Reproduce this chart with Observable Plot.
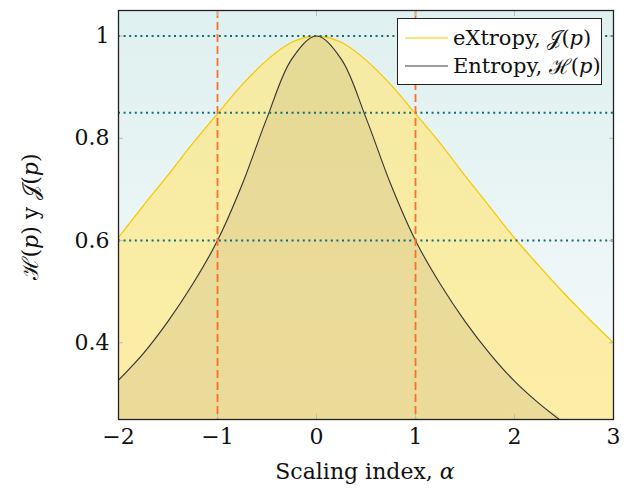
<!DOCTYPE html>
<html>
<head>
<meta charset="utf-8">
<script src="https://cdn.jsdelivr.net/npm/d3@7"></script>
<script src="https://cdn.jsdelivr.net/npm/@observablehq/plot@0.6"></script>
<style>
  html, body { margin: 0; padding: 0; background: #fff; }
  #wrap { position: relative; width: 630px; height: 491px; font-family: "DejaVu Serif", "Liberation Serif", serif; }
  #legend { position: absolute; left: 397px; top: 18px; width: 203px; height: 65px; border: 1.5px solid #222; background: #fff; box-sizing: content-box; }
  .lrow { position: absolute; left: 0; height: 28px; display: flex; align-items: center; font-size: 21px; color: #111; white-space: nowrap; }
  .lrow svg { margin-left: 7px; margin-right: 5px; }
  .m { font-style: italic; }
</style>
</head>
<body>
<div id="wrap">
  <div id="chart"></div>
  <div id="legend">
    <div class="lrow" style="top:5px"><svg width="43" height="4"><line x1="0" x2="43" y1="2" y2="2" stroke="#f7c700" stroke-width="1.2"/></svg>eXtropy,&nbsp;<span>𝒥</span>(<span class="m">p</span>)</div>
    <div class="lrow" style="top:33px"><svg width="43" height="4"><line x1="0" x2="43" y1="2" y2="2" stroke="#3a3a3a" stroke-width="1.2"/></svg>Entropy,&nbsp;<span>ℋ</span>(<span class="m">p</span>)</div>
  </div>
</div>
<script>
// ---- data ----
const alpha   = [-2, -1.75, -1.5, -1.25, -1, -0.75, -0.5, -0.25, 0, 0.25, 0.5, 0.75, 1, 1.25, 1.5, 1.75, 2, 2.25, 2.5, 2.75, 3];
const extropy = [0.606, 0.668, 0.728, 0.79, 0.848, 0.905, 0.953, 0.988, 1, 0.988, 0.953, 0.905, 0.848, 0.79, 0.727, 0.666, 0.605, 0.55, 0.497, 0.447, 0.4];
const entropy = [0.327, 0.379, 0.442, 0.515, 0.6, 0.71, 0.84, 0.955, 1, 0.955, 0.84, 0.71, 0.6, 0.515, 0.442, 0.379, 0.325, 0.281, 0.243, null, null];
const refLevels = [1, 0.85, 0.6];
const refAlphas = [-1, 1];
const xTicks = [-2, -1, 0, 1, 2, 3];
const yTicks = [0.4, 0.6, 0.8, 1];

const rows = alpha.map((a, i) => ({a, J: extropy[i], H: entropy[i]}));
const curve = "catmull-rom";
const fmtX = d => d < 0 ? "\u2212" + Math.abs(d) : String(d);
const fmtY = d => String(d);

const svg = Plot.plot({
  width: 630,
  height: 491,
  marginLeft: 118,
  marginRight: 17,
  marginTop: 10,
  marginBottom: 72,
  style: {fontFamily: "'DejaVu Serif', 'Liberation Serif', serif", fontSize: "22px", color: "#111", background: "#fff"},
  x: {domain: [-2, 3]},
  y: {domain: [0.25, 1.05]},
  marks: [
    Plot.frame({fill: "url(#bgGrad)"}),
    Plot.areaY(rows, {x: "a", y: "J", fill: "#ffe87f", fillOpacity: 0.68, curve, clip: true}),
    Plot.areaY(rows, {x: "a", y: "H", fill: "#8c7a50", fillOpacity: 0.15, curve, clip: true}),
    Plot.lineY(rows, {x: "a", y: "J", stroke: "#f7c700", strokeWidth: 1.2, curve, clip: true}),
    Plot.lineY(rows, {x: "a", y: "H", stroke: "#333", strokeWidth: 1.1, curve, clip: true}),
    Plot.ruleY(refLevels, {stroke: "#0f6e6e", strokeWidth: 2, strokeDasharray: "2,3.6"}),
    Plot.ruleX(refAlphas, {stroke: "#ff6e2a", strokeWidth: 1.8, strokeDasharray: "8,4"}),
    // inside ticks (pgfplots style)
    Plot.axisX({anchor: "bottom", ticks: xTicks, tickSize: -5, tickFormat: () => "", stroke: "#bbb", label: null}),
    Plot.axisX({anchor: "top", ticks: xTicks, tickSize: -5, tickFormat: () => "", stroke: "#bbb", label: null}),
    Plot.axisY({anchor: "left", ticks: yTicks, tickSize: -5, tickFormat: () => "", stroke: "#bbb", label: null}),
    Plot.axisY({anchor: "right", ticks: yTicks, tickSize: -5, tickFormat: () => "", stroke: "#bbb", label: null}),
    // tick labels
    Plot.axisX({anchor: "bottom", ticks: xTicks, tickSize: 0, tickPadding: 9, tickFormat: fmtX, fill: "#111", label: null}),
    Plot.axisY({anchor: "left", ticks: yTicks, tickSize: 0, tickPadding: 9, tickFormat: fmtY, fill: "#111", label: null}),
    Plot.frame({stroke: "#222", strokeWidth: 1.3})
  ]
});

const s = d3.select(svg);
const grad = s.insert("defs", ":first-child").append("linearGradient")
  .attr("id", "bgGrad").attr("x1", 0).attr("y1", 0).attr("x2", 0).attr("y2", 1);
grad.append("stop").attr("offset", "0%").attr("stop-color", "#def0ef");
grad.append("stop").attr("offset", "100%").attr("stop-color", "#f6fafb");

// axis titles
const xl = s.append("text").attr("x", 365).attr("y", 479).attr("text-anchor", "middle")
  .attr("font-size", 22).attr("fill", "#111");
xl.append("tspan").text("Scaling index, ");
xl.append("tspan").attr("font-style", "italic").text("α");

const yl = s.append("text").attr("transform", "translate(38,217) rotate(-90)").attr("text-anchor", "middle")
  .attr("font-size", 22).attr("fill", "#111");
yl.append("tspan").text("ℋ(");
yl.append("tspan").attr("font-style", "italic").text("p");
yl.append("tspan").text(") y 𝒥(");
yl.append("tspan").attr("font-style", "italic").text("p");
yl.append("tspan").text(")");

document.getElementById("chart").appendChild(svg);
</script>
</body>
</html>
